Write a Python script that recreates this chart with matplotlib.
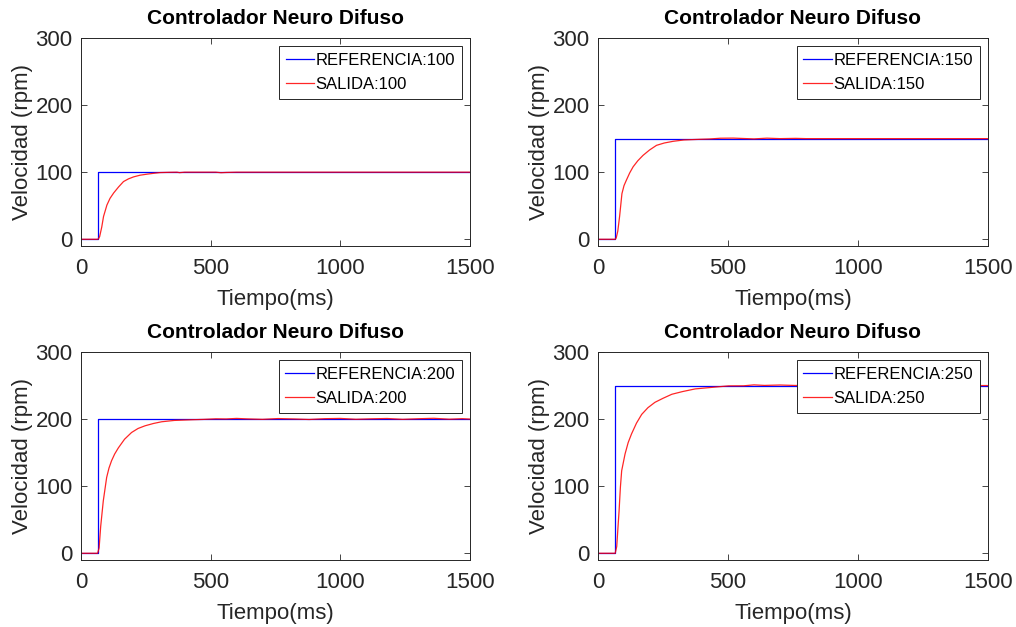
import matplotlib
matplotlib.use("Agg")
import matplotlib.pyplot as plt

# escalones de referencia (ms, rpm)
t_step = 65
referencias = [100, 150, 200, 250]
t_fin = 1500

# respuestas
t_100 = [0, 64, 68, 72, 80, 87, 100, 112, 126, 145, 164, 183, 203, 228, 254, 280, 305, 340,
         370, 380, 400, 450, 520, 540, 560, 600, 700, 800, 900, 1000, 1100, 1200, 1300, 1400, 1500]
v_100 = [0, 0, 1, 4, 18, 34, 51, 61, 69, 78, 86, 90, 93, 95.5, 97, 98.3, 99.4, 99.8,
         100, 99.3, 100, 100, 100, 99.2, 99.6, 100, 100, 100, 100, 100, 100, 100, 100, 100, 100]

t_150 = [0, 66, 70, 76, 83, 92, 100, 109, 122, 135, 153, 173, 198, 225, 255, 289, 330, 392,
         430, 470, 520, 560, 600, 650, 700, 760, 800, 900, 1000, 1100, 1200, 1300, 1400, 1500]
v_150 = [0, 0, 2, 12, 34, 68, 80, 88, 99, 108, 117, 125, 133, 140, 143.5, 146, 148, 149,
         149.5, 150.6, 150.8, 150.2, 149.6, 150.7, 150, 150.4, 150, 150, 150, 150, 150, 150, 150, 150]

t_200 = [0, 64, 70, 76, 86, 99, 108, 118, 130, 144, 168, 195, 220, 247, 280, 311, 360, 427,
         470, 520, 560, 600, 640, 700, 760, 820, 880, 940, 1000, 1060, 1120, 1180, 1240,
         1300, 1360, 1420, 1470, 1500]
v_200 = [0, 0, 8, 40, 78, 113, 127, 138, 148, 157, 170, 180, 186, 190, 193.5, 196, 198, 199,
         199.5, 200.4, 200.2, 201, 200.3, 199.6, 200.8, 200.2, 199.4, 200.6, 201, 199.7,
         200.4, 200.9, 199.6, 200.5, 201.2, 199.8, 200.6, 200]

t_250 = [0, 66, 72, 77, 81, 86, 91, 104, 116, 129, 148, 168, 192, 219, 250, 284, 325, 374,
         430, 502, 560, 600, 640, 700, 760, 800, 900, 1000, 1100, 1200, 1300, 1400, 1500]
v_250 = [0, 0, 10, 40, 63, 98, 123, 148, 165, 178, 194, 207, 217, 225, 231, 237, 241, 245,
         247, 249.5, 249.6, 251, 250.2, 250.8, 250.1, 250.5, 250, 250, 250, 250, 250, 250, 250]

salidas = [(t_100, v_100), (t_150, v_150), (t_200, v_200), (t_250, v_250)]

plt.rcParams["font.family"] = ["Liberation Sans", "DejaVu Sans"]
gris = "#262626"

fig = plt.figure(figsize=(10.16, 6.27), dpi=100)
posiciones = [
    [0.0797, 0.6077, 0.3829, 0.3317],
    [0.5886, 0.6077, 0.3838, 0.3317],
    [0.0797, 0.1069, 0.3829, 0.3317],
    [0.5886, 0.1069, 0.3838, 0.3317],
]

for pos, ref, (t, v) in zip(posiciones, referencias, salidas):
    ax = fig.add_axes(pos)
    ax.plot([0, t_step, t_step, t_fin], [0, 0, ref, ref], color="#0000ff",
            linewidth=0.9, label="REFERENCIA:%d" % ref)
    ax.plot(t, v, color="#ff0000", linewidth=0.9, alpha=0.85,
            label="SALIDA:%d" % ref)
    ax.set_xlim(0, 1500)
    ax.set_ylim(-10, 300)
    ax.set_xticks([0, 500, 1000, 1500])
    ax.set_yticks([0, 100, 200, 300])
    ax.tick_params(direction="in", top=True, right=True, labelsize=16,
                   colors=gris, length=4, width=0.6, pad=6)
    ax.tick_params(axis="x", pad=9)
    for s in ax.spines.values():
        s.set_color(gris)
        s.set_linewidth(0.7)
    ax.set_title("Controlador Neuro Difuso", fontsize=15, fontweight="bold", pad=10)
    ax.set_xlabel("Tiempo(ms)", fontsize=16, color=gris, labelpad=7)
    ax.set_ylabel("Velocidad (rpm)", fontsize=16, color=gris, labelpad=2)
    leg = ax.legend(loc="upper right", fontsize=12, fancybox=False, framealpha=1,
                    edgecolor=gris, borderaxespad=0.5, handlelength=1.7,
                    handletextpad=0.1, borderpad=0.4, labelspacing=0.55)
    leg.get_frame().set_linewidth(0.7)

fig.savefig("out.png", dpi=100)
